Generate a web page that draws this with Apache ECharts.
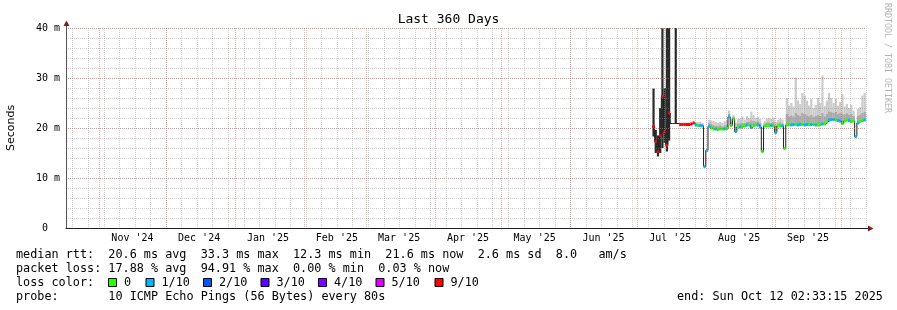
<!DOCTYPE html>
<html><head><meta charset="utf-8">
<script src="https://cdn.jsdelivr.net/npm/echarts@6/dist/echarts.min.js"></script>
<style>html,body{margin:0;padding:0;background:#fff}#c{width:897px;height:310px}</style>
</head><body><div id="c"></div>
<script>
// ---------- data ----------
const rangeStart = '2024-10-17T02:33:15Z';
const rangeEnd   = '2025-10-12T02:33:15Z';
const firstWeekLine = '2024-10-20T00:00:00Z';
const monthStarts = ['2024-11-01','2024-12-01','2025-01-01','2025-02-01','2025-03-01','2025-04-01',
                     '2025-05-01','2025-06-01','2025-07-01','2025-08-01','2025-09-01','2025-10-01'];
const monthLabels = ["Nov '24","Dec '24","Jan '25","Feb '25","Mar '25","Apr '25",
                     "May '25","Jun '25","Jul '25","Aug '25","Sep '25"];
const yTicks = [0, 10, 20, 30, 40];
const yTickLabels = ['0  ', '10 m', '20 m', '30 m', '40 m'];

const dataStart = '2025-07-08T00:00:00Z'; // one value per day
const median = [20.3,17.3,15.3,18.5,26.3,19.3,16.5,23.0,20.9,20.9,20.9,20.9,20.7,20.7,20.7,20.7,20.7,20.8,21.0,
  20.6,20.5,20.5,20.4,12.3,15.5,20.3,20.0,19.8,19.8,19.7,19.8,19.8,19.8,19.9,22.2,20.5,21.8,19.3,20.2,20.2,
  20.3,20.4,20.6,20.6,20.1,20.5,20.6,20.6,20.2,15.3,20.4,20.5,20.5,20.5,20.4,19.1,20.4,20.4,20.4,15.9,
  20.6,20.7,20.6,20.7,20.7,20.6,20.7,20.7,20.6,20.7,20.7,20.7,20.7,20.6,20.6,20.7,20.8,20.8,21.2,21.6,
  21.7,21.7,21.6,21.5,21.4,20.9,21.4,21.6,21.5,21.3,21.4,18.3,21.0,21.3,21.5,21.6,21.6];
const lossLevel = [9,9,9,9,9,9,9,9,null,null,null,null,9,9,9,9,9,9,9,
  1,0,1,1,1,1,1,0,0,1,0,0,0,1,0,1,0,0,1,0,1,
  0,0,1,0,1,0,0,1,1,0,0,0,0,1,0,1,0,0,1,0,
  0,0,1,1,0,1,1,0,1,1,0,1,0,1,0,0,1,0,0,1,
  1,1,0,1,1,0,0,0,1,0,0,1,1,0,0,1,0];
const darkLow  = [18.3,15.0,14.3,15.0,16.0,17.0,15.3,17.5,null,null,20.9];
const darkHigh = [27.9,19.6,18.5,24.0,40.0,28.0,40.0,40.0,null,null,40.0];
const smokeMid = [null,null,null,null,null,null,null,null,null,null,null,null,null,null,null,null,null,null,null,
  20.8,20.8,20.8,20.7,null,null,21.0,20.8,20.6,20.4,20.3,20.5,20.3,20.5,20.6,22.8,21.2,22.2,20.2,20.9,20.9,
  21.0,21.0,21.2,21.2,21.5,21.4,21.2,21.3,21.0,null,20.9,21.1,21.1,21.0,21.2,20.5,20.9,21.1,20.9,null,
  22.8,22.3,22.5,22.3,23.0,22.6,22.4,23.0,22.8,22.5,22.3,22.6,22.2,22.4,22.6,22.4,23.0,22.3,22.8,23.3,
  23.2,23.0,23.2,22.8,23.0,22.8,22.7,22.9,22.6,22.8,22.4,null,22.4,22.6,23.0,23.2,23.0];
const smokeHigh = [null,null,null,null,null,null,null,null,null,null,null,null,null,null,null,null,null,null,null,
  21.2,21.2,21.3,21.0,null,null,21.6,21.5,21.4,21.2,21.0,21.2,21.0,21.4,21.5,23.5,22.0,22.6,21.0,21.8,21.9,
  22.3,21.7,22.4,22.0,23.3,22.6,22.0,22.2,21.8,null,21.4,21.9,22.0,21.8,22.1,21.2,21.6,22.0,21.7,null,
  26.0,24.5,25.0,24.3,30.1,25.5,24.8,27.0,26.5,25.5,24.5,25.8,24.0,24.6,26.0,25.0,30.5,24.4,25.5,27.0,
  26.0,25.0,25.8,24.5,25.2,26.8,24.3,24.8,24.0,24.6,23.5,null,23.8,24.2,26.5,27.0,26.0];

const lossColors = {0:'#26ff00',1:'#00b8ff',2:'#0059ff',3:'#5e00ff',4:'#7e00ff',5:'#dd00ff',9:'#ff0000'};
const lossLegendLabels = ['0','1/10','2/10','3/10','4/10','5/10','9/10'];
const lossLegendLevels = [0,1,2,3,4,5,9];

const statsLine = 'median rtt:  20.6 ms avg  33.3 ms max  12.3 ms min  21.6 ms now  2.6 ms sd  8.0   am/s';
const lossLine  = 'packet loss: 17.88 % avg  94.91 % max  0.00 % min  0.03 % now';
const probeLine = 'probe:       10 ICMP Echo Pings (56 Bytes) every 80s';
const endLine   = 'end: Sun Oct 12 02:33:15 2025';

// ---------- build ----------
const DAY = 86400000;
const t0 = Date.parse(rangeStart), t1 = Date.parse(rangeEnd);
const d0 = Date.parse(dataStart);
const dayT = i => d0 + i * DAY;

const monthMs = monthStarts.map(s => Date.parse(s + 'T00:00:00Z'));
const labelPos = monthLabels.map((_, i) => monthMs[i] + 15 * DAY);
const labelMap = {}; labelPos.forEach((p, i) => labelMap[p] = monthLabels[i]);
const weekMs = [];
for (let w = Date.parse(firstWeekLine); w < t1; w += 7 * DAY) weekMs.push(w);

const medData = median.map((v, i) => [dayT(i), v]);
medData.push([t1, median[median.length - 1]]);
const lossData = [], darkData = [], midData = [], hiData = [];
median.forEach((v, i) => {
  if (lossLevel[i] != null) lossData.push([dayT(i), v, lossLevel[i]]);
  if (smokeHigh[i] != null) hiData.push([dayT(i), v, smokeHigh[i]]);
  if (smokeMid[i] != null) midData.push([dayT(i), v, smokeMid[i]]);
});
darkLow.forEach((v, i) => { if (v != null) darkData.push([dayT(i), v, darkHigh[i]]); });

function bandSeries(name, data, color, z) {
  return {
    type: 'custom', name, z, data, silent: true,
    renderItem(params, api) {
      const cs = params.coordSys;
      const t = api.value(0), lo = api.value(1), hi = api.value(2);
      const pTop = api.coord([t, hi]);
      const pBot = api.coord([t + DAY, lo]);
      const x0 = Math.max(pTop[0], cs.x), x1 = Math.min(pBot[0], cs.x + cs.width);
      if (x1 <= x0) return null;
      return { type: 'rect', shape: { x: x0, y: pTop[1], width: x1 - x0, height: pBot[1] - pTop[1] },
               style: { fill: color } };
    }
  };
}

const mono = 'DejaVu Sans Mono';
const gridGrey = 'rgba(143,143,143,0.42)';
const gridRed = 'rgba(222,79,79,0.48)';

function vGridSeries(times, color, z) {
  return {
    type: 'custom', z, silent: true, data: times.map(t => [t, 0]),
    renderItem(params, api) {
      const cs = params.coordSys;
      const x = Math.round(api.coord([api.value(0), 0])[0]) + 0.5;
      return { type: 'line', shape: { x1: x, y1: cs.y, x2: x, y2: cs.y + cs.height },
               style: { stroke: color, fill: null, lineWidth: 1, lineDash: [1, 1] } };
    }
  };
}

const graphics = [
  { type: 'text', x: 448.5, y: 19.5, style: { text: 'Last 360 Days', font: '13px "DejaVu Sans Mono"', fill: '#000', align: 'center', verticalAlign: 'middle' } },
  { type: 'text', x: 11, y: 128, rotation: Math.PI / 2, style: { text: 'Seconds', font: '11px "DejaVu Sans"', fill: '#000', align: 'center', verticalAlign: 'middle' } },
  { type: 'text', x: 887, y: 58, rotation: -Math.PI / 2, style: { text: 'RRDTOOL / TOBI OETIKER', font: '8.3px "DejaVu Sans Mono"', fill: '#b4b4b4', align: 'center', verticalAlign: 'middle' } },
  { type: 'text', x: 16, y: 254.5, style: { text: statsLine, font: '11.8px "DejaVu Sans Mono"', fill: '#000', verticalAlign: 'middle' } },
  { type: 'text', x: 16, y: 268.5, style: { text: lossLine, font: '11.8px "DejaVu Sans Mono"', fill: '#000', verticalAlign: 'middle' } },
  { type: 'text', x: 16, y: 282.5, style: { text: 'loss color:', font: '11.8px "DejaVu Sans Mono"', fill: '#000', verticalAlign: 'middle' } },
  { type: 'text', x: 16, y: 296.5, style: { text: probeLine, font: '11.8px "DejaVu Sans Mono"', fill: '#000', verticalAlign: 'middle' } },
  { type: 'text', x: 677, y: 296.5, style: { text: endLine, font: '11.8px "DejaVu Sans Mono"', fill: '#000', verticalAlign: 'middle' } },
  // axis extensions and arrows
  { type: 'line', shape: { x1: 66.5, y1: 28, x2: 66.5, y2: 24 }, style: { stroke: '#555', lineWidth: 1 }, z: 20 },
  { type: 'polygon', shape: { points: [[63.5, 26], [69.5, 26], [66.5, 20.5]] }, style: { fill: '#7f1f1f' }, z: 20 },
  { type: 'line', shape: { x1: 866, y1: 228.5, x2: 869, y2: 228.5 }, style: { stroke: '#202020', lineWidth: 1 }, z: 20 },
  { type: 'polygon', shape: { points: [[868, 225.5], [868, 231.5], [873.5, 228.5]] }, style: { fill: '#7f1f1f' }, z: 20 }
];
const sqX = [108.5, 146, 203.5, 261, 318.5, 376, 435];
lossLegendLevels.forEach((lv, k) => {
  graphics.push({ type: 'rect', shape: { x: sqX[k], y: 278.5, width: 8, height: 8 }, style: { fill: lossColors[lv], stroke: '#000', lineWidth: 1 } });
  graphics.push({ type: 'text', x: sqX[k] + 15.5, y: 282.5, style: { text: lossLegendLabels[k], font: '11.8px "DejaVu Sans Mono"', fill: '#000', verticalAlign: 'middle' } });
});

const option = {
  animation: false,
  backgroundColor: '#ffffff',
  grid: { left: 66, right: 31, top: 28, bottom: 82, containLabel: false },
  xAxis: {
    type: 'value', min: t0, max: t1, z: 13,
    axisLine: { show: true, lineStyle: { color: '#202020', width: 1 } },
    axisTick: { show: false },
    splitLine: { show: false },
    axisLabel: {
      customValues: labelPos, margin: 5, color: '#000', fontFamily: mono, fontSize: 10,
      formatter: v => labelMap[v] || ''
    }
  },
  yAxis: [
    { type: 'value', position: 'left', min: 0, max: 40, interval: 2, z: 10,
      axisLine: { show: false }, axisTick: { show: false }, axisLabel: { show: false },
      splitLine: { show: true, lineStyle: { color: gridGrey, type: [1, 1], width: 1 } } },
    { type: 'value', position: 'left', offset: 0, min: 0, max: 40, interval: 10, z: 13,
      axisLine: { show: true, lineStyle: { color: '#555', width: 1 } }, axisTick: { show: false },
      axisLabel: { margin: 6, color: '#000', fontFamily: mono, fontSize: 10,
        formatter: v => yTickLabels[yTicks.indexOf(v)] },
      splitLine: { show: true, lineStyle: { color: gridRed, type: [1, 1], width: 1 } } }
  ],
  series: [
    bandSeries('smoke', hiData, '#cccccc', 2),
    bandSeries('smoke core', midData, '#aaaaaa', 3),
    bandSeries('spread', darkData, '#2b2b2b', 4),
    { type: 'line', name: 'median', data: medData, step: 'end', showSymbol: false, symbol: 'none', z: 5,
      lineStyle: { color: '#202020', width: 1 }, silent: true },
    {
      type: 'custom', name: 'loss', z: 6, data: lossData, silent: true,
      renderItem(params, api) {
        const cs = params.coordSys;
        const t = api.value(0), v = api.value(1), lv = api.value(2);
        const p0 = api.coord([t, v]), p1 = api.coord([t + DAY, v]);
        const x0 = Math.max(p0[0], cs.x), x1 = Math.min(p1[0], cs.x + cs.width);
        if (x1 <= x0) return null;
        return { type: 'rect', shape: { x: x0, y: p0[1] - 1.5, width: x1 - x0, height: 3 }, style: { fill: lossColors[lv] } };
      }
    },
    vGridSeries(weekMs, gridGrey, 11),
    vGridSeries(monthMs, gridRed, 12)
  ],
  graphic: graphics
};
echarts.init(document.getElementById('c')).setOption(option);
</script>
</body></html>
